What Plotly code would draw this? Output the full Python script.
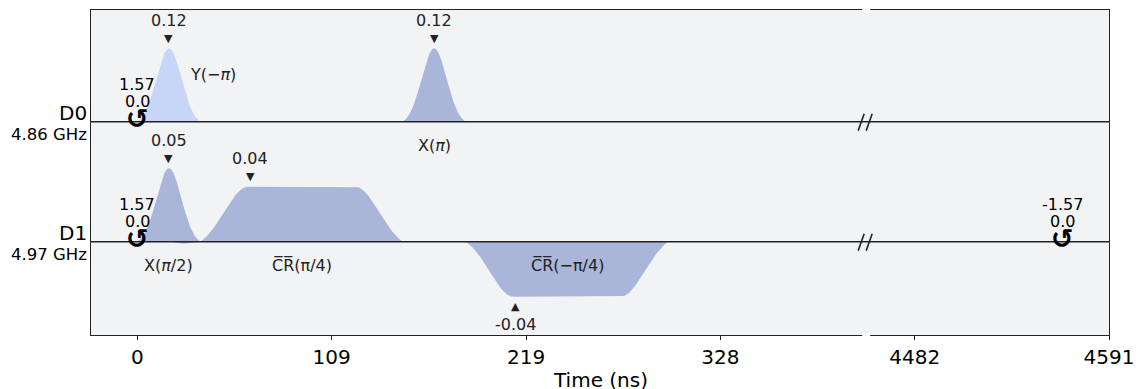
import numpy as np
import plotly.graph_objects as go

# ---------------- data ----------------
CHANNELS = ["D0", "D1"]
CHANNEL_FREQS = ["4.86 GHz", "4.97 GHz"]
CHANNEL_NORM = [0.12, 0.05]          # per-channel auto-scale (max |amp|)
CHANNEL_OFFSET = [0.0, -1.635]       # vertical position of each channel baseline

# pulses (times in ns)
PULSE_CHANNEL = [0, 0, 1, 1, 1]
PULSE_START = [0.0, 149.3, 0.0, 35.56, 185.0]
PULSE_DURATION = [35.56, 35.56, 35.56, 113.8, 113.8]
PULSE_KIND = ["gauss", "gauss", "gauss", "gsq", "gsq"]
PULSE_AMP = [0.12, 0.12, 0.05, 0.0375, -0.0375]
PULSE_SIGMA = [7.0, 7.0, 7.0, 13.4, 13.4]
PULSE_WIDTH = [0.0, 0.0, 0.0, 60.2, 60.2]
PULSE_BETA = [0.0, 0.0, 0.31, 0.0, 0.0]
PULSE_LABEL = ["Y(−<i>π</i>)", "X(<i>π</i>)", "X(<i>π</i>/2)",
               "C\u0305R\u0305(π/4)", "C\u0305R\u0305(−π/4)"]
PULSE_COLOR = ["#c7d5f7", "#a9b6d9", "#a9b6d9", "#a9b6d9", "#a9b6d9"]

# frame changes
FRAME_CHANNEL = [0, 1, 1]
FRAME_TIME = [0.0, 0.0, 4564.7]
FRAME_PHASE = [1.57, 1.57, -1.57]
FRAME_FREQ = [0.0, 0.0, 0.0]

# time axis with a collapsed interval
TICK_LABELS = ["0", "109", "219", "328", "4482", "4591"]
X_TITLE = "Time (ns)"
T_END = 4591.0
TIME_BREAK = 410.3
TIME_REMOVED = 4044.0
X_LEFT = -26.1
Y_RANGE = [-2.906, 1.522]

FONT = "DejaVu Sans"


def drawn(t):
    t = np.asarray(t, dtype=float)
    return np.where(t > TIME_BREAK, t - TIME_REMOVED, t)


def lifted_gauss(t, c, s, edge):
    g = np.exp(-((t - c) ** 2) / (2 * s * s))
    g0 = np.exp(-((edge) ** 2) / (2 * s * s))
    return (g - g0) / (1 - g0)


def envelope(i):
    t0, d, s = PULSE_START[i], PULSE_DURATION[i], PULSE_SIGMA[i]
    t = np.linspace(0, d, 400)
    if PULSE_KIND[i] == "gauss":
        c = d / 2
        re = lifted_gauss(t, c, s, c)
        g = np.exp(-((t - c) ** 2) / (2 * s * s))
        g0 = np.exp(-(c ** 2) / (2 * s * s))
        im = -PULSE_BETA[i] * (t - c) / (s * s) * g / (1 - g0)
        peak_t = c
    else:
        rf = (d - PULSE_WIDTH[i]) / 2
        re = np.ones_like(t)
        m1 = t < rf
        m2 = t > d - rf
        re[m1] = lifted_gauss(t[m1], rf, s, rf)
        re[m2] = lifted_gauss(t[m2], d - rf, s, rf)
        im = np.zeros_like(t)
        peak_t = rf
    return t0 + t, PULSE_AMP[i] * re, PULSE_AMP[i] * im, t0 + peak_t


fig = go.Figure()
annotations = []
shapes = []

for i in range(len(PULSE_START)):
    ch = PULSE_CHANNEL[i]
    off = CHANNEL_OFFSET[ch]
    norm = CHANNEL_NORM[ch]
    t, re, im, tp = envelope(i)
    x = drawn(t)
    for comp in ([im, re] if PULSE_BETA[i] else [re]):
        y = off + comp / norm
        fig.add_trace(go.Scatter(
            x=np.concatenate([x, x[::-1]]),
            y=np.concatenate([y, np.full_like(y, off)]),
            fill="toself", fillcolor=PULSE_COLOR[i], line=dict(width=0),
            mode="lines", hoverinfo="skip", showlegend=False))
    amp = PULSE_AMP[i]
    ypk = off + amp / norm
    sgn = 1 if amp > 0 else -1
    xs = 2 if PULSE_KIND[i] == "gsq" else 0
    annotations.append(dict(x=float(drawn(tp)), y=ypk, text="▼" if sgn > 0 else "▲",
                            showarrow=False, yshift=10 * sgn, xshift=xs,
                            font=dict(size=11, color="#222", family=FONT)))
    annotations.append(dict(x=float(drawn(tp)), y=ypk, text=f"{amp:.2f}",
                            showarrow=False, yshift=28 * sgn, xshift=xs,
                            font=dict(size=16, color="#222", family=FONT)))
    tc = PULSE_START[i] + PULSE_DURATION[i] / 2
    if i == 0:
        annotations.append(dict(x=float(drawn(tc)), y=off, text=PULSE_LABEL[i],
                                showarrow=False, xshift=44, yshift=47,
                                font=dict(size=16, color="#222", family=FONT)))
    else:
        annotations.append(dict(x=float(drawn(tc)), y=off, text=PULSE_LABEL[i],
                                showarrow=False, yshift=-24,
                                font=dict(size=16, color="#222", family=FONT)))

for k in range(len(FRAME_TIME)):
    off = CHANNEL_OFFSET[FRAME_CHANNEL[k]]
    xk = float(drawn(FRAME_TIME[k]))
    annotations.append(dict(x=xk, y=off, text=f"{FRAME_PHASE[k]:.2f}", showarrow=False,
                            yshift=37, font=dict(size=16, color="black", family=FONT)))
    annotations.append(dict(x=xk, y=off, text=f"{FRAME_FREQ[k]:.1f}", showarrow=False,
                            yshift=20, font=dict(size=16, color="black", family=FONT)))
    annotations.append(dict(x=xk, y=off, text="<b>↺</b>", showarrow=False,
                            yshift=3, font=dict(size=27, color="black", family=FONT)))

# baselines, channel labels, break markers
x_right = T_END - TIME_REMOVED
for ch, name in enumerate(CHANNELS):
    off = CHANNEL_OFFSET[ch]
    shapes.append(dict(type="line", xref="x", yref="y", x0=X_LEFT, x1=x_right,
                       y0=off, y1=off, line=dict(color="#222", width=1.6), layer="above"))
    for dx in (-6, 2):
        shapes.append(dict(type="line", xref="x", yref="y", xsizemode="pixel",
                           ysizemode="pixel", xanchor=TIME_BREAK, yanchor=off,
                           x0=dx - 2, x1=dx + 4, y0=-9, y1=8,
                           line=dict(color="#222", width=1.6), layer="above"))
    annotations.append(dict(x=0, xref="paper", y=off, xanchor="right", text=name,
                            showarrow=False, xshift=-2, yshift=9,
                            font=dict(size=20, color="black", family=FONT)))
    annotations.append(dict(x=0, xref="paper", y=off, xanchor="right",
                            text=CHANNEL_FREQS[ch], showarrow=False, xshift=-2,
                            yshift=-13, font=dict(size=16.5, color="black", family=FONT)))

# x-axis title
annotations.append(dict(x=0.5, xref="paper", y=0, yref="paper", text=X_TITLE,
                        showarrow=False, yanchor="middle", yshift=-45,
                        font=dict(size=20, color="black", family=FONT)))

for ya in (0, 1):
    shapes.append(dict(type="rect", xref="x", yref="paper", xsizemode="pixel",
                       ysizemode="pixel", xanchor=TIME_BREAK, yanchor=ya,
                       x0=-4, x1=4, y0=-2, y1=2, line=dict(width=0),
                       fillcolor="white", layer="above"))

tickvals = list(np.linspace(0, T_END - TIME_REMOVED, len(TICK_LABELS)))

fig.update_layout(
    width=1136, height=389,
    margin=dict(l=91, r=27, t=10, b=54, autoexpand=False),
    paper_bgcolor="white", plot_bgcolor="#f2f3f4",
    annotations=annotations, shapes=shapes,
    font=dict(family=FONT),
    xaxis=dict(range=[X_LEFT, x_right], tickvals=tickvals, ticktext=TICK_LABELS,
               automargin=False,
               showgrid=False, zeroline=False, showline=True, mirror=True,
               linecolor="#222", linewidth=1.2, ticks="outside", ticklen=4,
               tickcolor="#222", tickfont=dict(size=20, color="black", family=FONT)),
    yaxis=dict(range=Y_RANGE, showticklabels=False, ticks="", showgrid=False,
               automargin=False,
               zeroline=False, showline=True, mirror=True, linecolor="#222",
               linewidth=1.2),
)

fig.write_html("out.html")
